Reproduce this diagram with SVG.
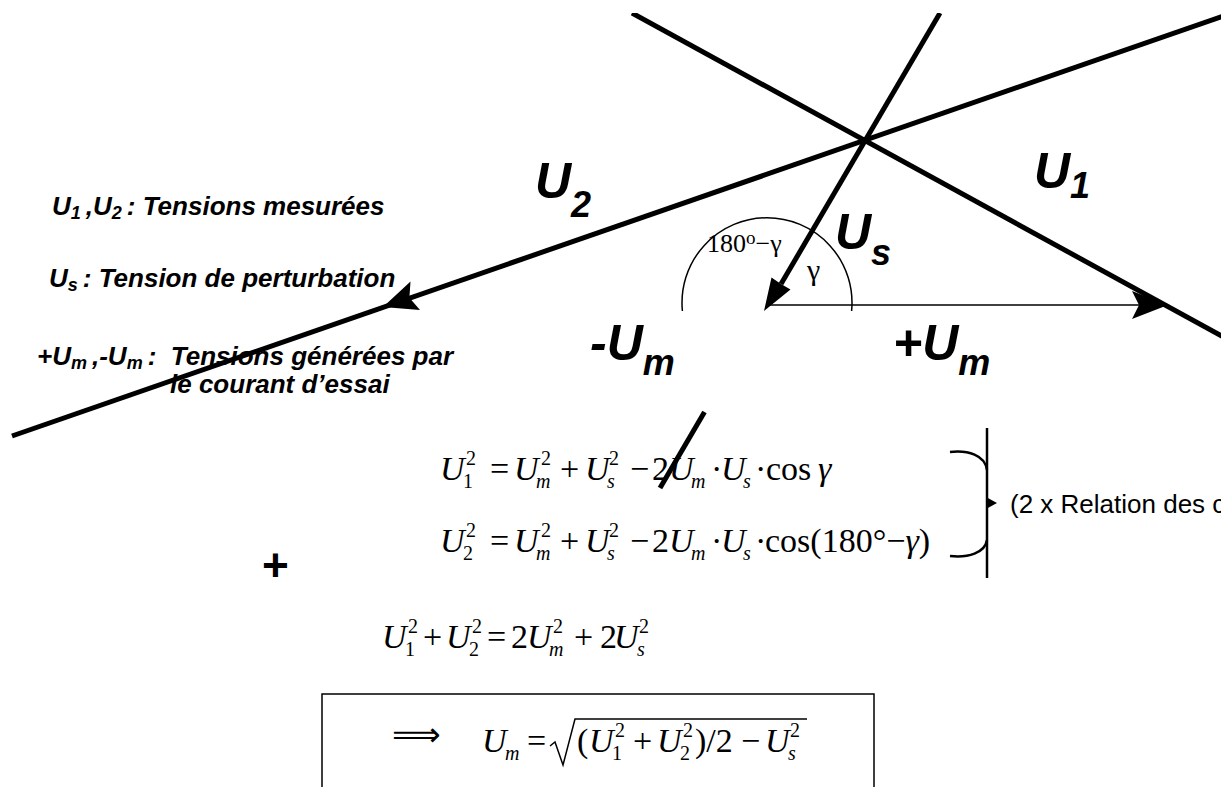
<svg xmlns="http://www.w3.org/2000/svg" width="1229" height="787" viewBox="0 0 1229 787">
<style>
.leg{font-family:"Liberation Sans",Arial,sans-serif;font-weight:bold;font-style:italic;font-size:26px;fill:#000}
.legs{font-size:18px}
.big{font-family:"Liberation Sans",Arial,sans-serif;font-weight:bold;font-style:italic;font-size:50px;fill:#000}
.bsub{font-size:36px}
.eq{font-family:"Liberation Serif","Times New Roman",serif;font-size:34px;fill:#000}
.i{font-style:italic}
.sm{font-size:20px}
.ang{font-family:"Liberation Serif","Times New Roman",serif;font-size:26px;fill:#000}
.note{font-family:"Liberation Sans",Arial,sans-serif;font-size:26px;fill:#000}
.plus{font-family:"Liberation Sans",Arial,sans-serif;font-weight:bold;font-size:46px;fill:#000}
.thick{stroke:#000;stroke-width:5;fill:none}
.thin{stroke:#000;stroke-width:1.5;fill:none}
.brace{stroke:#000;stroke-width:2.5;fill:none}
.head{fill:#000;stroke:none}
</style>
<defs>
<clipPath id="page"><rect x="0" y="13" width="1221" height="774"/></clipPath>
</defs>
<rect width="1229" height="787" fill="#fff"/>
<g clip-path="url(#page)">
<g id="connectors">
<line class="thick" x1="12" y1="436" x2="1229" y2="14"/>
<line class="thick" x1="632" y1="13" x2="1229" y2="340"/>
<line class="thick" x1="940" y1="13" x2="781" y2="284"/>
<line class="thick" x1="704.5" y1="412" x2="660" y2="488"/>
<polygon class="head" points="764,311 790.5,289.5 781,284 771.5,277.5"/>
<polygon class="head" points="383,307 420,310 409.4,297.8 410.5,281.5"/>
<line class="thin" x1="766" y1="305" x2="1140" y2="305"/>
<polygon class="head" points="1168,305 1132,291 1139,305 1132,319"/>
<path class="thin" d="M682.4,311 A85,85 0 1 1 851.6,311"/>
</g>
<g id="legend">
<text class="leg" x="52" y="215">U<tspan class="legs" dy="4">1 </tspan><tspan dy="-4">,U</tspan><tspan class="legs" dy="4">2 </tspan><tspan dy="-4">: Tensions mesurées</tspan></text>
<text class="leg" x="49" y="287">U<tspan class="legs" dy="4">s </tspan><tspan dy="-4">: Tension de perturbation</tspan></text>
<text class="leg" x="37" y="365">+U<tspan class="legs" dy="4">m </tspan><tspan dy="-4">,-U</tspan><tspan class="legs" dy="4">m </tspan><tspan dy="-4">:&#160; Tensions générées par</tspan></text>
<text class="leg" x="170" y="393">le courant d’essai</text>
</g>
<g id="label-U2"><text class="big" x="535" y="198">U<tspan class="bsub" dy="19">2</tspan></text></g>
<g id="label-U1"><text class="big" x="1034" y="188">U<tspan class="bsub" dy="10">1</tspan></text></g>
<g id="label-Us"><text class="big" x="835" y="249">U<tspan class="bsub" dy="16">s</tspan></text></g>
<g id="label-mUm"><text class="big" x="590" y="360">-U<tspan class="bsub" dy="15">m</tspan></text></g>
<g id="label-pUm"><text class="big" x="893" y="360">+U<tspan class="bsub" dy="15">m</tspan></text></g>
<g id="angles">
<text class="ang" x="707" y="252">180<tspan font-size="19" dy="-8">o</tspan><tspan dy="8">−γ</tspan></text>
<text class="ang" x="807" y="280" font-size="30" style="font-size:30px">γ</text>
</g>
<g id="plus"><text class="plus" x="262" y="581">+</text></g>
<g id="eq1">
<text class="eq" y="480"><tspan class="i" x="440">U</tspan><tspan class="sm" x="463" y="488">1</tspan><tspan class="sm" x="466" y="465">2</tspan><tspan x="490" y="480">=</tspan><tspan class="i" x="514">U</tspan><tspan class="i sm" x="536" y="488">m</tspan><tspan class="sm" x="541" y="465">2</tspan><tspan x="560" y="480">+</tspan><tspan class="i" x="585">U</tspan><tspan class="i sm" x="607" y="488">s</tspan><tspan class="sm" x="609" y="465">2</tspan><tspan x="630" y="480">−</tspan><tspan x="652">2</tspan><tspan class="i" x="669">U</tspan><tspan class="i sm" x="691" y="488">m</tspan><tspan x="711" y="480">·</tspan><tspan class="i" x="721">U</tspan><tspan class="i sm" x="743" y="488">s</tspan><tspan x="755" y="480">·</tspan><tspan x="766">cos</tspan><tspan class="i" x="818">γ</tspan></text>
</g>
<g id="eq2">
<text class="eq" y="552"><tspan class="i" x="440">U</tspan><tspan class="sm" x="463" y="560">2</tspan><tspan class="sm" x="466" y="537">2</tspan><tspan x="490" y="552">=</tspan><tspan class="i" x="514">U</tspan><tspan class="i sm" x="536" y="560">m</tspan><tspan class="sm" x="541" y="537">2</tspan><tspan x="560" y="552">+</tspan><tspan class="i" x="585">U</tspan><tspan class="i sm" x="607" y="560">s</tspan><tspan class="sm" x="609" y="537">2</tspan><tspan x="630" y="552">−</tspan><tspan x="652">2</tspan><tspan class="i" x="669">U</tspan><tspan class="i sm" x="691" y="560">m</tspan><tspan x="711" y="552">·</tspan><tspan class="i" x="721">U</tspan><tspan class="i sm" x="743" y="560">s</tspan><tspan x="755" y="552">·</tspan><tspan x="765">cos(180°−</tspan><tspan class="i">γ</tspan><tspan>)</tspan></text>
</g>
<g id="brace">
<line class="brace" x1="987" y1="428" x2="987" y2="578"/>
<path class="brace" d="M950,452 C968,450 985,455 987,470"/>
<path class="brace" d="M950,556 C968,558 985,553 987,540"/>
<polygon class="head" points="986,497 997,503 986,509"/>
<text class="note" x="1010" y="513">(2 x Relation des c</text>
</g>
<g id="eq3">
<text class="eq" y="648"><tspan class="i" x="382">U</tspan><tspan class="sm" x="405" y="656">1</tspan><tspan class="sm" x="408" y="633">2</tspan><tspan x="423" y="648">+</tspan><tspan class="i" x="446">U</tspan><tspan class="sm" x="469" y="656">2</tspan><tspan class="sm" x="472" y="633">2</tspan><tspan x="487" y="648">=</tspan><tspan x="511">2</tspan><tspan class="i" x="527">U</tspan><tspan class="i sm" x="549" y="656">m</tspan><tspan class="sm" x="553" y="633">2</tspan><tspan x="574" y="648">+</tspan><tspan x="600">2</tspan><tspan class="i" x="614">U</tspan><tspan class="i sm" x="637" y="656">s</tspan><tspan class="sm" x="639" y="633">2</tspan></text>
</g>
<g id="result">
<rect x="322" y="694" width="552" height="130" fill="none" stroke="#000" stroke-width="1.5"/>
<text x="392" y="746" font-family="DejaVu Sans, sans-serif" font-size="34">⟹</text>
<text class="eq" y="752"><tspan class="i" x="482">U</tspan><tspan class="i sm" x="505" y="760">m</tspan><tspan x="527" y="752">=</tspan><tspan x="577">(</tspan><tspan class="i" x="589">U</tspan><tspan class="sm" x="612" y="760">1</tspan><tspan class="sm" x="615" y="737">2</tspan><tspan x="633" y="752">+</tspan><tspan class="i" x="657">U</tspan><tspan class="sm" x="680" y="760">2</tspan><tspan class="sm" x="683" y="737">2</tspan><tspan x="695" y="752">)/2</tspan><tspan x="741">−</tspan><tspan class="i" x="765">U</tspan><tspan class="i sm" x="788" y="760">s</tspan><tspan class="sm" x="790" y="737">2</tspan></text>
<path d="M550,746 L555,742 L563,765 L575,719 H807" stroke="#000" stroke-width="1.5" fill="none"/>
</g>
</g>
</svg>
